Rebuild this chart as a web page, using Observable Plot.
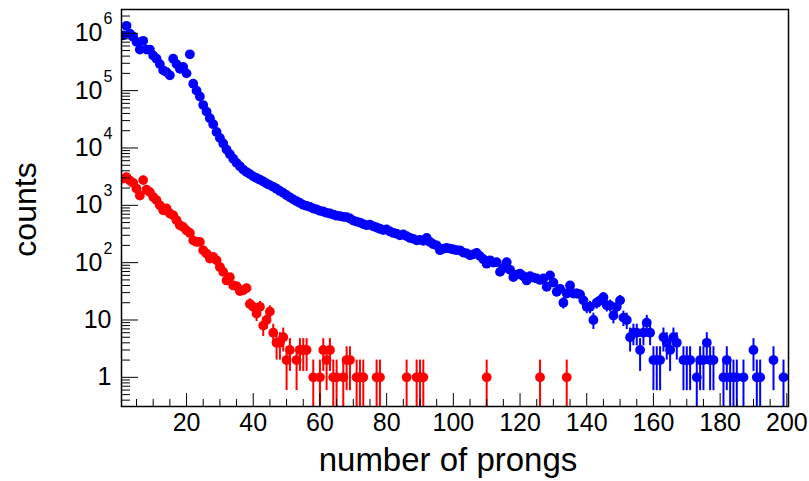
<!DOCTYPE html>
<html>
<head>
<meta charset="utf-8">
<script src="https://cdn.jsdelivr.net/npm/d3@7"></script>
<script src="https://cdn.jsdelivr.net/npm/@observablehq/plot@0.6"></script>
<style>
  html, body { margin: 0; padding: 0; background: #ffffff; }
  #chart svg { display: block; }
</style>
</head>
<body>
<div id="chart"></div>
<script>
// ---- data: counts per bin (bin number = index + 1); 0 = empty bin ----
const blueCounts = [
  920000, 1350000, 990000, 870000, 710000, 520000, 740000, 520000, 520000, 410000,
  360000, 290000, 226000, 210000, 185000, 360000, 290000, 240000, 260000, 200000,
  430000, 132000, 100000, 79000, 56000, 43000, 33000, 26000, 19000, 15000,
  12000, 9400, 7800, 6500, 5500, 4800, 4200, 3800, 3500, 3200,
  3000, 2800, 2600, 2400, 2250, 2100, 1950, 1780, 1650, 1500,
  1380, 1270, 1180, 1100, 1020, 980, 940, 880, 850, 800,
  780, 740, 720, 690, 660, 650, 630, 620, 590, 540,
  520, 500, 470, 450, 460, 430, 410, 390, 370, 380,
  350, 330, 320, 300, 310, 290, 270, 260, 245, 250,
  240, 270, 230, 210, 200, 165, 175, 180, 176, 170,
  165, 164, 150, 145, 134, 140, 148, 130, 115, 96,
  110, 100, 102, 69, 80, 102, 75, 56, 62, 64,
  58, 49, 58, 55, 53, 50, 53, 38, 60, 45,
  31, 35, 20, 29, 40, 29, 29, 28, 22, 17,
  17, 10, 20, 22, 25, 18, 18, 12, 17, 22,
  11, 10, 5, 6, 6, 3, 6, 9, 6, 2,
  2, 2, 5, 4, 3, 5, 4, 0, 2, 2,
  2, 0, 1, 2, 2, 4, 2, 2, 0, 0,
  1, 2, 1, 1, 1, 0, 1, 0, 0, 3,
  1, 1, 0, 0, 0, 2, 0, 0, 1, 0
];
const redCounts = [
  2920, 3100, 2700, 2450, 1960, 1480, 2750, 1870, 1700, 1400,
  1230, 1000, 820, 880, 720, 670, 550, 450, 420, 365,
  330, 245, 230, 230, 164, 144, 118, 126, 110, 84,
  69, 49, 56, 40, 39, 32, 33, 36, 19, 17,
  13, 17, 8, 10, 14, 6, 4, 4, 5, 2,
  3, 0, 2, 3, 3, 3, 0, 1, 0, 1,
  3, 2, 3, 1, 1, 0, 1, 2, 2, 0,
  1, 1, 1, 0, 0, 0, 1, 1, 0, 0,
  0, 0, 0, 0, 0, 1, 0, 0, 1, 1,
  1, 0, 0, 0, 0, 0, 0, 0, 0, 0,
  0, 0, 0, 0, 0, 0, 0, 0, 0, 1,
  0, 0, 0, 0, 0, 0, 0, 0, 0, 0,
  0, 0, 0, 0, 0, 1, 0, 0, 0, 0,
  0, 0, 0, 1
];
const xDomain = [0.5, 200.5];
const yDomain = [0.31, 2.6e6];
const xMajorTicks = [20, 40, 60, 80, 100, 120, 140, 160, 180, 200];
const xMinorTicks = d3.range(5, 201, 5).filter(v => v % 20 !== 0);
const yMajorTicks = [1, 10, 1e2, 1e3, 1e4, 1e5, 1e6];
const yMinorTicks = [];
for (let k = -1; k <= 6; k++) for (let m = 2; m <= 9; m++) {
  const v = m * Math.pow(10, k);
  if (v >= yDomain[0] && v <= yDomain[1]) yMinorTicks.push(v);
}
const yPlainLabels = [{v: 1, t: "1"}, {v: 10, t: "10"}];
const yExpLabels = [
  {v: 1e2, e: "2"}, {v: 1e3, e: "3"}, {v: 1e4, e: "4"},
  {v: 1e5, e: "5"}, {v: 1e6, e: "6"}
];
const xTitle = "number of prongs";
const yTitle = "counts";

const toRows = arr => arr.map((n, i) => ({bin: i + 1, n})).filter(d => d.n > 0);
const blue = toRows(blueCounts);
const red = toRows(redCounts);

const W = 809, H = 481;
const mL = 121, mR = 21, mT = 9, mB = 75;
const pw = W - mL - mR, ph = H - mT - mB;
const font = "'Liberation Sans', Arial, Helvetica, sans-serif";

const errBars = (data, color) => Plot.ruleX(data, {
  x: "bin",
  y1: d => Math.max(d.n - Math.sqrt(d.n), 0.05),
  y2: d => d.n + Math.sqrt(d.n),
  stroke: color, strokeWidth: 2, clip: true
});
const dots = (data, color) => Plot.dot(data, {
  x: "bin", y: "n", r: 4.9, fill: color, stroke: null, clip: true
});

const chart = Plot.plot({
  width: W, height: H,
  marginLeft: mL, marginRight: mR, marginTop: mT, marginBottom: mB,
  style: {fontFamily: font, background: "#ffffff", color: "#000"},
  x: {type: "linear", domain: xDomain, axis: null},
  y: {type: "log", domain: yDomain, axis: null},
  marks: [
    errBars(blue, "#0000ff"),
    errBars(red, "#ff0000"),
    dots(blue, "#0000ff"),
    dots(red, "#ff0000"),
    // ticks pointing inward
    Plot.tickX(xMajorTicks, {x: d => d, stroke: "#000", strokeWidth: 1, insetTop: ph - 13}),
    Plot.tickX(xMinorTicks, {x: d => d, stroke: "#000", strokeWidth: 1, insetTop: ph - 7}),
    Plot.tickY(yMajorTicks, {y: d => d, stroke: "#000", strokeWidth: 1, insetRight: pw - 17}),
    Plot.tickY(yMinorTicks, {y: d => d, stroke: "#000", strokeWidth: 1, insetRight: pw - 9}),
    Plot.frame({stroke: "#000", strokeWidth: 1.5}),
    // tick labels
    Plot.text(xMajorTicks, {x: d => d, frameAnchor: "bottom", text: d => String(d),
      textAnchor: "middle", lineAnchor: "top", dy: 7, fontSize: 25, fill: "#000"}),
    Plot.text(yPlainLabels, {y: "v", frameAnchor: "left", text: "t", textAnchor: "end",
      lineAnchor: "middle", dx: -10, fontSize: 25, fill: "#000"}),
    Plot.text(yExpLabels, {y: "v", frameAnchor: "left", text: () => "10", textAnchor: "end",
      lineAnchor: "middle", dx: -19, fontSize: 25, fill: "#000"}),
    Plot.text(yExpLabels, {y: "v", frameAnchor: "left", text: "e", textAnchor: "start",
      lineAnchor: "middle", dx: -18, dy: -14, fontSize: 16, fill: "#000"}),
    // axis titles
    Plot.text([xTitle], {frameAnchor: "bottom", text: d => d, textAnchor: "middle",
      lineAnchor: "bottom", dx: -7, dy: 64.5, fontSize: 33, fill: "#000"}),
    Plot.text([yTitle], {frameAnchor: "left", text: d => d, rotate: -90, textAnchor: "middle",
      lineAnchor: "bottom", dx: -86, dy: 1.5, fontSize: 32, fill: "#000"})
  ]
});
document.getElementById("chart").appendChild(chart);
</script>
</body>
</html>
